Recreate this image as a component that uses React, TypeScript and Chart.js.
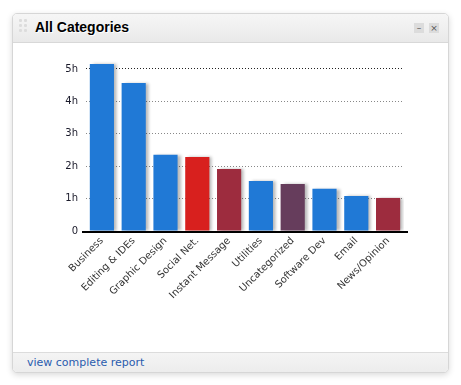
import React, { useEffect, useRef } from "react";
import { Chart, registerables } from "chart.js";

Chart.register(...registerables);

const categories = [
  "Business",
  "Editing & IDEs",
  "Graphic Design",
  "Social Net.",
  "Instant Message",
  "Utilities",
  "Uncategorized",
  "Software Dev",
  "Email",
  "News/Opinion",
];
const hours = [5.15, 4.57, 2.35, 2.28, 1.91, 1.54, 1.45, 1.3, 1.08, 1.02];
const barColors = [
  "#2079d6",
  "#2079d6",
  "#2079d6",
  "#d8201e",
  "#9d2c3e",
  "#2079d6",
  "#663d5c",
  "#2079d6",
  "#2079d6",
  "#9d2c3e",
];
const yTickValues = [0, 1, 2, 3, 4, 5];
const yTickLabels = ["0", "1h", "2h", "3h", "4h", "5h"];

const shadowPlugin = {
  id: "barShadow",
  beforeDatasetsDraw(chart: any) {
    const ctx = chart.ctx;
    ctx.save();
    ctx.shadowColor = "rgba(0,0,0,0.28)";
    ctx.shadowOffsetX = 3;
    ctx.shadowOffsetY = 0;
    ctx.shadowBlur = 3;
  },
  afterDatasetsDraw(chart: any) {
    const ctx = chart.ctx;
    ctx.restore();
    const { left, right, bottom } = chart.chartArea;
    ctx.save();
    ctx.strokeStyle = "#000";
    ctx.lineWidth = 2;
    ctx.beginPath();
    ctx.moveTo(left - 4, bottom + 1);
    ctx.lineTo(right + 4, bottom + 1);
    ctx.stroke();
    ctx.restore();
  },
};

function ChartCanvas() {
  const ref = useRef<HTMLCanvasElement | null>(null);
  useEffect(() => {
    if (!ref.current) return;
    const chart = new Chart(ref.current, {
      type: "bar",
      data: {
        labels: categories,
        datasets: [
          {
            data: hours,
            backgroundColor: barColors,
            borderWidth: 0,
            barPercentage: 0.76,
            categoryPercentage: 1,
          },
        ],
      },
      options: {
        animation: false,
        responsive: false,
        maintainAspectRatio: false,
        layout: { padding: { top: 26, right: 26, left: 0, bottom: 0 } },
        plugins: { legend: { display: false }, tooltip: { enabled: false } },
        scales: {
          x: {
            grid: { display: false, drawTicks: false },
            border: { display: false },
            ticks: {
              minRotation: 45,
              maxRotation: 45,
              autoSkip: false,
              padding: 4,
              color: "#333",
              font: { family: "DejaVu Sans", size: 10 },
            },
            afterFit(scale: any) {
              scale.height = 109;
            },
          },
          y: {
            min: 0,
            max: 5.4,
            afterBuildTicks(scale: any) {
              scale.ticks = yTickValues.map((v) => ({ value: v }));
            },
            ticks: {
              padding: 8,
              color: "#1a1a2a",
              font: { family: "DejaVu Sans", size: 10 },
              callback: (v: any) => {
                const i = yTickValues.indexOf(Number(v));
                return i >= 0 ? yTickLabels[i] : "";
              },
            },
            grid: {
              drawTicks: false,
              color: (c: any) =>
                c.tick && c.tick.value === 0
                  ? "rgba(0,0,0,0)"
                  : c.tick && c.tick.value === 5
                  ? "#222"
                  : "#888",
            },
            border: { display: false, dash: [1, 2] },
            afterFit(scale: any) {
              scale.width = 66;
            },
          },
        },
      } as any,
      plugins: [shadowPlugin],
    });
    return () => chart.destroy();
  }, []);
  return (
    <canvas
      ref={ref}
      width={410}
      height={310}
      style={{ position: "absolute", left: 20, top: 30, width: 410, height: 310 }}
    />
  );
}

export default function App() {
  useEffect(() => {
    document.body.style.margin = "0";
  }, []);
  const dot = (x: number, y: number) => (
    <div
      key={`${x}-${y}`}
      style={{
        position: "absolute",
        left: x,
        top: y,
        width: 3,
        height: 3,
        borderRadius: 1,
        background: "#dcdcdc",
      }}
    />
  );
  return (
    <div
      style={{
        position: "fixed",
        left: 0,
        top: 0,
        width: 461,
        height: 385,
        background: "#fff",
        overflow: "hidden",
      }}
    >
      <div
        style={{
          position: "absolute",
          left: 12,
          top: 13,
          width: 435,
          height: 358,
          border: "1px solid #d6d6d6",
          borderRadius: 5,
          background: "#fff",
          boxShadow: "0 2px 6px rgba(0,0,0,0.15)",
          overflow: "hidden",
        }}
      >
        <div
          style={{
            position: "absolute",
            left: 0,
            top: 0,
            width: 435,
            height: 28,
            background: "linear-gradient(#f6f6f6, #e9e9e9)",
            borderBottom: "1px solid #d8d8d8",
          }}
        >
          {[dot(6, 5), dot(11, 5), dot(6, 10), dot(11, 10), dot(6, 15), dot(11, 15)]}
          <div
            style={{
              position: "absolute",
              left: 22,
              top: 5,
              fontFamily: "'Liberation Sans', Arial, sans-serif",
              fontWeight: "bold",
              fontSize: 14,
              color: "#000",
              textShadow: "1px 1px 0 #fff",
              lineHeight: "17px",
            }}
          >
            All Categories
          </div>
          <div
            style={{
              position: "absolute",
              left: 401,
              top: 9,
              width: 10,
              height: 10,
              background: "#dcdcdc",
              fontFamily: "DejaVu Sans",
              fontSize: 9,
              lineHeight: "10px",
              textAlign: "center",
              color: "#555",
            }}
          >
            –
          </div>
          <div
            style={{
              position: "absolute",
              left: 416,
              top: 9,
              width: 10,
              height: 10,
              background: "#dcdcdc",
              fontFamily: "DejaVu Sans",
              fontSize: 9,
              lineHeight: "10px",
              textAlign: "center",
              color: "#555",
            }}
          >
            ×
          </div>
        </div>
        <div
          style={{
            position: "absolute",
            left: 0,
            top: 338,
            width: 435,
            height: 20,
            background: "linear-gradient(#f4f4f4, #ececec)",
            borderTop: "1px solid #dcdcdc",
          }}
        >
          <div
            style={{
              position: "absolute",
              left: 14,
              top: 3,
              fontFamily: "'DejaVu Sans', Verdana, sans-serif",
              fontSize: 11,
              lineHeight: "14px",
              color: "#2a5cae",
            }}
          >
            view complete report
          </div>
        </div>
      </div>
      <ChartCanvas />
    </div>
  );
}
